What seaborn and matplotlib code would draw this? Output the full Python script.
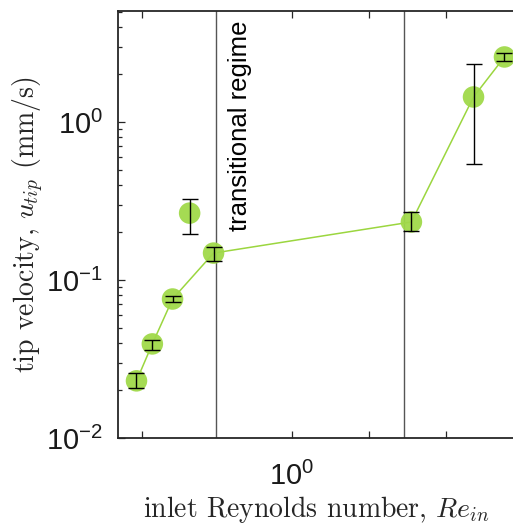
import numpy as np
import pandas as pd
import matplotlib
matplotlib.use("Agg")
import matplotlib.pyplot as plt
import seaborn as sns
from matplotlib.ticker import FixedLocator, NullFormatter, LogLocator, FixedFormatter

# Data
re_in = [0.248, 0.286, 0.343, 0.496, 2.94, 5.14, 6.79]
u_tip = [0.0230, 0.0394, 0.0758, 0.148, 0.233, 1.44, 2.58]
u_lo = [0.0208, 0.0362, 0.0730, 0.132, 0.204, 0.54, 2.42]
u_hi = [0.0256, 0.0420, 0.0790, 0.162, 0.270, 2.33, 2.72]
out_re = [0.40]
out_u = [0.265]
out_lo = [0.195]
out_hi = [0.325]
regime_bounds = [0.509, 2.74]
x_ticks = [0.26, 1.0, 2.0, 4.0]
x_ticklabels = ["", "$10^{0}$", "", ""]
y_ticks = [0.01, 0.1, 1.0]
y_ticklabels = ["$10^{-2}$", "$10^{-1}$", "$10^{0}$"]

sns.set_style("white")
plt.rcParams["font.family"] = ["Liberation Sans", "DejaVu Sans"]
plt.rcParams["mathtext.fontset"] = "custom"
plt.rcParams["mathtext.rm"] = "Liberation Sans"
plt.rcParams["mathtext.it"] = "Liberation Sans:italic"

W, H = 513, 526
fig = plt.figure(figsize=(W / 100, H / 100), dpi=100)
xlim = (0.21, 7.5)
dec_px = 256
ax_w = dec_px * np.log10(xlim[1] / xlim[0])
ax = fig.add_axes([118 / W, (H - 438) / H, ax_w / W, 427 / H])

green = "#9bd63f"
df = pd.DataFrame({"re": re_in, "u": u_tip})
dfo = pd.DataFrame({"re": out_re, "u": out_u})

sns.lineplot(data=df, x="re", y="u", ax=ax, color=green, lw=1.1, zorder=2)
sns.scatterplot(data=df, x="re", y="u", ax=ax, color="#a0d94a", s=15.5**2,
                edgecolor="none", alpha=0.95, zorder=3)
sns.scatterplot(data=dfo, x="re", y="u", ax=ax, color="#a0d94a", s=15.5**2,
                edgecolor="none", alpha=0.95, zorder=3)

u = np.array(u_tip)
ax.errorbar(re_in, u_tip, yerr=[u - np.array(u_lo), np.array(u_hi) - u],
            fmt="none", ecolor="black", elinewidth=1.0, capsize=6, capthick=1.0, zorder=4)
uo = np.array(out_u)
ax.errorbar(out_re, out_u, yerr=[uo - np.array(out_lo), np.array(out_hi) - uo],
            fmt="none", ecolor="black", elinewidth=1.0, capsize=6, capthick=1.0, zorder=4)

for xb in regime_bounds:
    ax.axvline(xb, color="#555555", lw=1.0, zorder=1)

ax.text(regime_bounds[0] * 1.11, 4.4, "transitional regime", rotation=90,
        ha="left", va="top", fontsize=18.5, color="black")

ax.set_xscale("log")
ax.set_yscale("log")
ax.set_xlim(*xlim)
ax.set_ylim(0.01, 10 ** (427 / 158 - 2))

ax.xaxis.set_major_locator(FixedLocator(x_ticks))
ax.xaxis.set_major_formatter(FixedFormatter(x_ticklabels))
ax.xaxis.set_minor_locator(FixedLocator([]))
ax.yaxis.set_major_locator(FixedLocator(y_ticks))
ax.yaxis.set_major_formatter(FixedFormatter(y_ticklabels))
ax.yaxis.set_minor_locator(LogLocator(base=10, subs=np.arange(2, 10), numticks=20))
ax.yaxis.set_minor_formatter(NullFormatter())

ax.tick_params(axis="both", which="both", direction="in", top=True, bottom=True,
               left=True, right=False,
               color="#262626", width=0.9, labelsize=21, labelcolor="#1a1a1a")
ax.tick_params(axis="both", which="major", length=5)
ax.tick_params(axis="both", which="minor", length=3)
ax.tick_params(axis="x", pad=17)
ax.tick_params(axis="y", pad=11)

for side in ["left", "bottom", "top"]:
    ax.spines[side].set_color("#262626")
    ax.spines[side].set_linewidth(1.3)
ax.spines["right"].set_visible(False)

ax.set_xlabel(r"inlet Reynolds number, $Re_{in}$", fontsize=20,
              fontfamily="cmr10", math_fontfamily="cm", labelpad=2)
ax.set_ylabel(r"tip velocity, $u_{tip}$ (mm/s)", fontsize=20,
              fontfamily="cmr10", math_fontfamily="cm", labelpad=0)

fig.savefig("out.png", dpi=100)
